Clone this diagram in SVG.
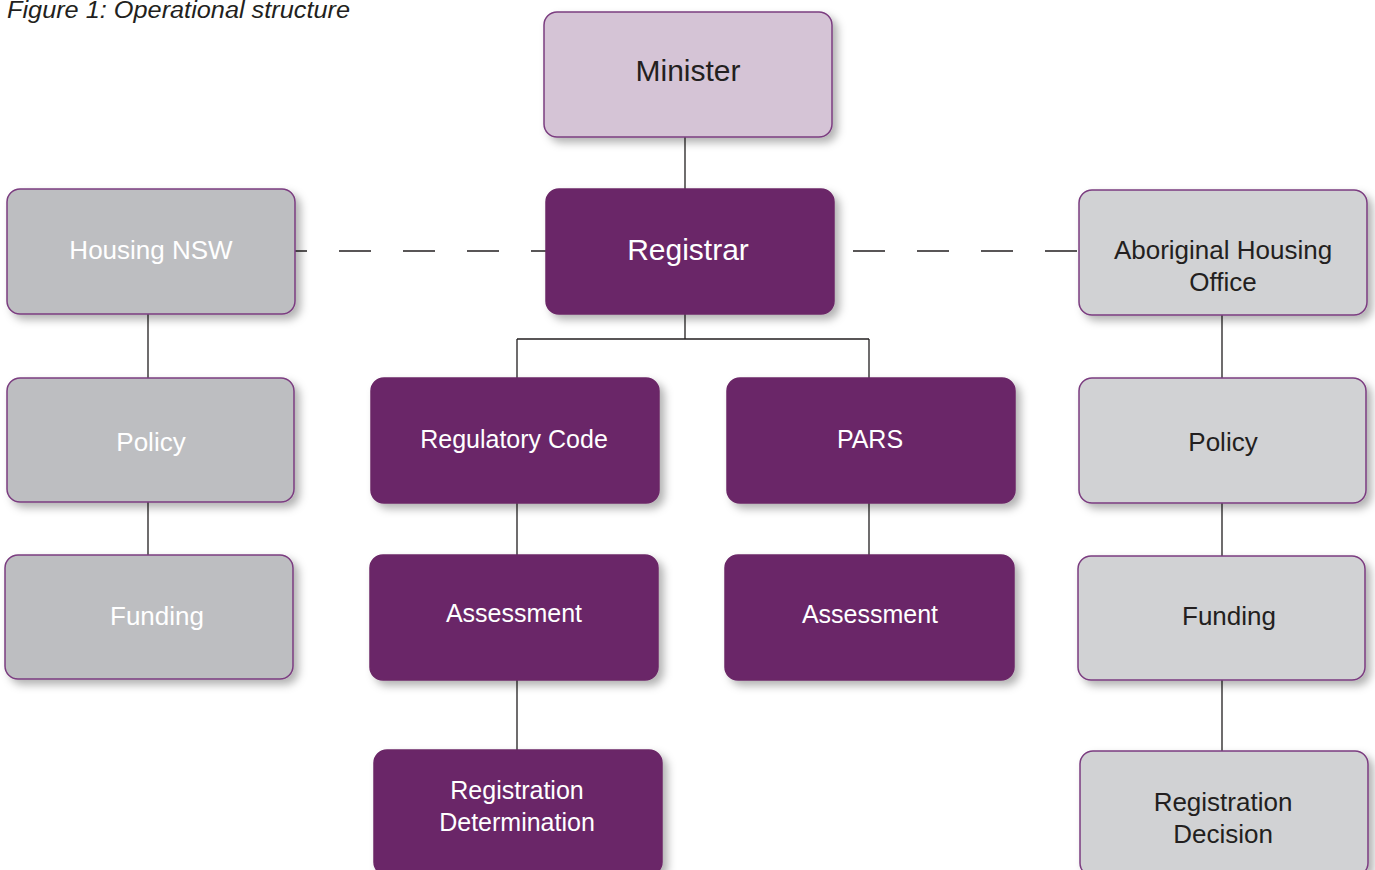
<svg xmlns="http://www.w3.org/2000/svg" width="1375" height="870" viewBox="0 0 1375 870">
<defs>
<filter id="sh" x="-10%" y="-10%" width="130%" height="140%">
<feDropShadow dx="5" dy="5" stdDeviation="4" flood-color="#000" flood-opacity="0.3"/>
</filter>
<style>
.box{stroke:#7b3d80;stroke-width:1.5;filter:url(#sh)}
.pur{fill:#6b2667;stroke:#6b2667}
.lil{fill:#d5c4d6}
.g1{fill:#bdbec1}
.g2{fill:#d1d2d4}
.t{font-family:"Liberation Sans",Arial,sans-serif;text-anchor:middle}
.w{fill:#ffffff}
.d{fill:#231f20}
.ln{stroke:#231f20;stroke-width:1.3;fill:none}
.dash{stroke-dasharray:32 32}
</style>
</defs>
<rect width="1375" height="870" fill="#ffffff"/>
<text x="7" y="18" font-family="Liberation Sans, Arial, sans-serif" font-style="italic" font-size="23" textLength="343" lengthAdjust="spacingAndGlyphs" fill="#231f20">Figure 1: Operational structure</text>
<g id="connectors">
<path class="ln" d="M685 137V189"/>
<path class="ln dash" d="M563 251H295"/>
<path class="ln dash" d="M853 251H1079"/>
<path class="ln" d="M685 314V339M517 339H869M517 339V378M869 339V378"/>
<path class="ln" d="M517 503V555M517 680V750M869 503V555"/>
<path class="ln" d="M148 314V378M148 502V555"/>
<path class="ln" d="M1222 315V378M1222 503V556M1222 680V751"/>
</g>
<g id="minister"><rect class="box lil" x="544" y="12" width="288" height="125" rx="13"/><text class="t d" x="688" y="81" font-size="30">Minister</text></g>
<g id="registrar"><rect class="box pur" x="546" y="189" width="288" height="125" rx="13"/><text class="t w" x="688" y="260" font-size="30">Registrar</text></g>
<g id="housing-nsw"><rect class="box g1" x="7" y="189" width="288" height="125" rx="13"/><text class="t w" x="151" y="259" font-size="26">Housing NSW</text></g>
<g id="aho"><rect class="box g2" x="1079" y="190" width="288" height="125" rx="13"/><text class="t d" x="1223" y="259" font-size="26">Aboriginal Housing</text><text class="t d" x="1223" y="291" font-size="26">Office</text></g>
<g id="policy-left"><rect class="box g1" x="7" y="378" width="287" height="124" rx="13"/><text class="t w" x="151" y="451" font-size="26">Policy</text></g>
<g id="funding-left"><rect class="box g1" x="5" y="555" width="288" height="124" rx="13"/><text class="t w" x="157" y="625" font-size="26">Funding</text></g>
<g id="regulatory-code"><rect class="box pur" x="371" y="378" width="288" height="125" rx="13"/><text class="t w" x="514" y="448" font-size="25">Regulatory Code</text></g>
<g id="pars"><rect class="box pur" x="727" y="378" width="288" height="125" rx="13"/><text class="t w" x="870" y="448" font-size="25">PARS</text></g>
<g id="assessment-left"><rect class="box pur" x="370" y="555" width="288" height="125" rx="13"/><text class="t w" x="514" y="622" font-size="25">Assessment</text></g>
<g id="assessment-right"><rect class="box pur" x="725" y="555" width="289" height="125" rx="13"/><text class="t w" x="870" y="623" font-size="25">Assessment</text></g>
<g id="reg-determination"><rect class="box pur" x="374" y="750" width="288" height="125" rx="13"/><text class="t w" x="517" y="799" font-size="25">Registration</text><text class="t w" x="517" y="831" font-size="25">Determination</text></g>
<g id="policy-right"><rect class="box g2" x="1079" y="378" width="287" height="125" rx="13"/><text class="t d" x="1223" y="451" font-size="26">Policy</text></g>
<g id="funding-right"><rect class="box g2" x="1078" y="556" width="287" height="124" rx="13"/><text class="t d" x="1229" y="625" font-size="26">Funding</text></g>
<g id="reg-decision"><rect class="box g2" x="1080" y="751" width="288" height="125" rx="13"/><text class="t d" x="1223" y="811" font-size="26">Registration</text><text class="t d" x="1223" y="843" font-size="26">Decision</text></g>
</svg>
